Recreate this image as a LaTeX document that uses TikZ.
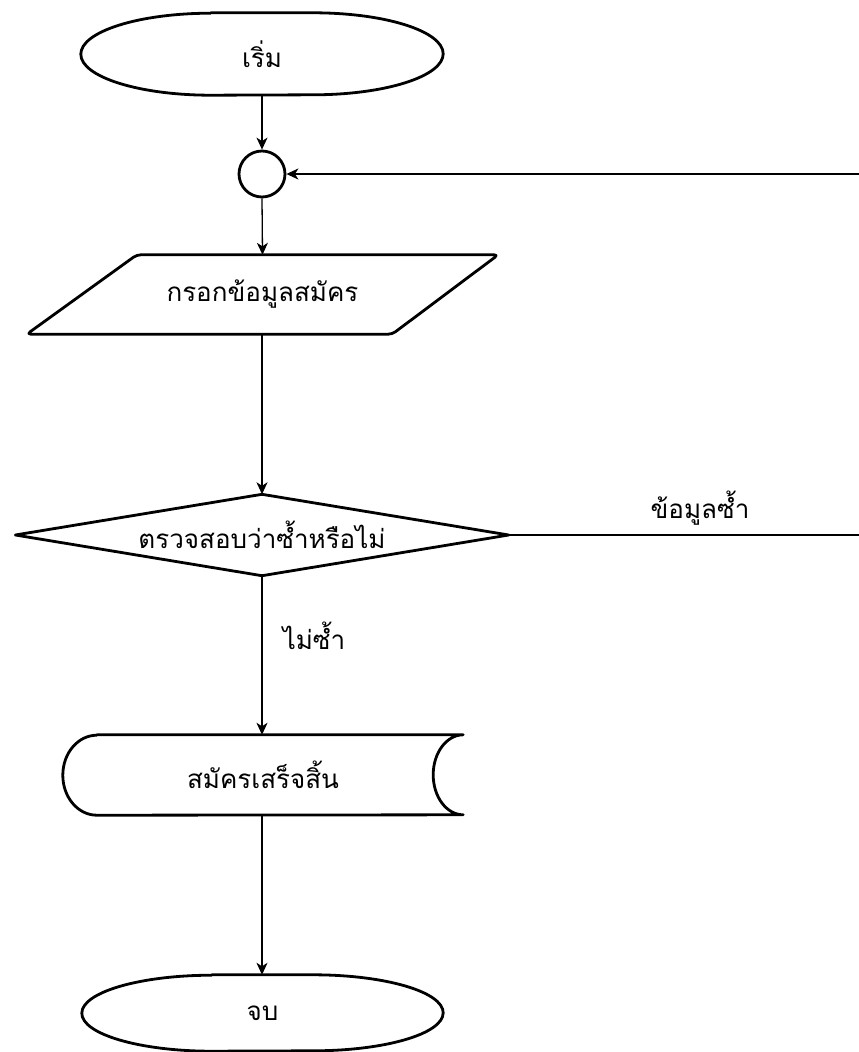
\documentclass[tikz,border=0pt]{standalone}
\usepackage{fontspec}
\newfontfamily\thaifont[Script=Thai]{Loma}
\usetikzlibrary{arrows.meta}
\tikzset{
  x=1pt,y=1pt,
  box/.style={draw=none,rectangle,inner sep=0pt,font=\thaifont\fontsize{26}{30}\selectfont},
  outline/.style={draw=black,line width=2.8pt,line join=round},
  conn/.style={draw=black,line width=1.3pt,-{Stealth[length=12pt,width=11pt,inset=3.5pt]}},
  lbl/.style={font=\thaifont\fontsize{26}{30}\selectfont,inner sep=0pt}
}
\begin{document}
\begin{tikzpicture}
\useasboundingbox (0,0) rectangle (859,-1052);
% start
\node[box,minimum width=362pt,minimum height=82pt] (start) at (262,-54) {เริ่ม};
\draw[outline] ([xshift=130pt]start.north west) -- ([xshift=-130pt]start.north east)
  arc[start angle=90,end angle=-90,x radius=130pt,y radius=41pt]
  -- ([xshift=130pt]start.south west)
  arc[start angle=270,end angle=90,x radius=130pt,y radius=41pt] -- cycle;
% junction
\node[circle,draw=black,line width=2.8pt,minimum size=46pt,inner sep=0pt] (junc) at (262,-174) {};
% input
\node[box,minimum width=471pt,minimum height=79pt] (input) at (262.5,-294.5) {กรอกข้อมูลสมัคร};
\draw[outline,rounded corners=4pt] ([xshift=110pt]input.north west) -- (input.north east)
  -- ([xshift=-106pt]input.south east) -- (input.south west) -- cycle;
% decision
\node[box,minimum width=493pt,minimum height=81pt] (dec) at (262,-535) {ตรวจสอบว่าซ้ำหรือไม่};
\draw[outline] (dec.west) -- (dec.north) -- (dec.east) -- (dec.south) -- cycle;
% display
\node[box,minimum width=400pt,minimum height=80pt] (disp) at (263,-775) {สมัครเสร็จสิ้น};
\draw[outline] ([xshift=34pt]disp.north west) -- (disp.north east)
  arc[start angle=90,end angle=270,x radius=30pt,y radius=40pt]
  -- ([xshift=34pt]disp.south west)
  arc[start angle=270,end angle=90,x radius=34pt,y radius=40pt] -- cycle;
% end
\node[box,minimum width=361pt,minimum height=76pt] (end) at (262.5,-1013) {จบ};
\draw[outline] ([xshift=130pt]end.north west) -- ([xshift=-130pt]end.north east)
  arc[start angle=90,end angle=-90,x radius=130pt,y radius=38pt]
  -- ([xshift=130pt]end.south west)
  arc[start angle=270,end angle=90,x radius=130pt,y radius=38pt] -- cycle;
% connectors
\draw[conn] (start.south) -- (junc.north);
\draw[conn] (junc.south) -- (input.north);
\draw[conn] (input.south -| dec.north) -- (dec.north);
\draw[conn] (dec.south) -- (dec.south |- disp.north);
\draw[conn] (disp.south -| dec.south) -- (end.north -| dec.south);
\coordinate (loopcorner) at (872,-535);
\draw[conn] (dec.east) -- (loopcorner) |- (junc.east);
% labels
\node[lbl] (lyes) at (700,-508) {ข้อมูลซ้ำ};
\node[lbl] (lno) at (314,-636) {ไม่ซ้ำ};
\end{tikzpicture}
\end{document}
